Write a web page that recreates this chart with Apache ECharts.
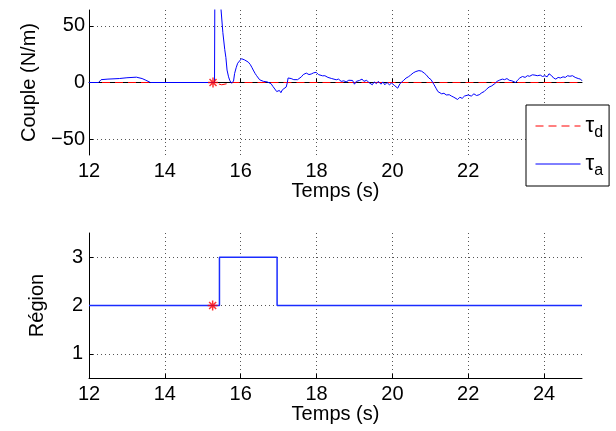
<!DOCTYPE html>
<html>
<head>
<meta charset="utf-8">
<script src="https://cdn.jsdelivr.net/npm/echarts@6/dist/echarts.min.js"></script>
<style>
  body { margin: 0; background: #fff; }
  #chart { width: 616px; height: 431px; }
</style>
</head>
<body>
<div id="chart"></div>
<script>
// ticks
var timeTicks = [12, 14, 16, 18, 20, 22, 24];
var coupleTicks = [-50, 0, 50];
var regionTicks = [1, 2, 3];

// couple desire (t, N/m)
var tauD = [[12, 0], [15.27, 0], [15.5, -2], [15.8, 0], [25, 0]];

// couple applique (t, N/m)
var tauA = [
  [12.0, 0], [12.25, 0], [12.32, 2.5], [12.5, 3], [12.8, 3.5], [13.0, 4.2], [13.25, 4.7],
  [13.4, 3.5], [13.5, 2], [13.62, 0], [15.31, 0], [15.32, 95], [15.42, 95], [15.48, 65],
  [15.53, 44], [15.58, 29], [15.61, 22], [15.64, 11], [15.68, 5], [15.71, 2], [15.75, -0.5],
  [15.78, -1.5], [15.81, 1], [15.84, 8], [15.88, 13], [15.92, 17], [15.97, 19], [16.02, 21],
  [16.06, 21.5], [16.1, 20], [16.15, 20.5], [16.2, 18], [16.25, 16], [16.3, 13], [16.33, 11],
  [16.38, 8], [16.42, 6], [16.46, 4.5], [16.5, 2.4], [16.55, 3], [16.6, 1], [16.65, 2],
  [16.7, 0.5], [16.75, 1.5], [16.8, -1], [16.85, -3.5], [16.9, -5], [16.95, -8], [16.98, -9.5],
  [17.02, -7], [17.06, -9], [17.1, -6.4], [17.15, -7.5], [17.2, -4], [17.23, 0], [17.25, 4],
  [17.29, 2.4], [17.33, 3.5], [17.4, 2.5], [17.45, 3.5], [17.5, 2.5], [17.55, 3], [17.6, 5],
  [17.65, 7], [17.7, 7.5], [17.73, 8.3], [17.8, 7], [17.86, 7.5], [17.92, 8.5], [17.99, 9],
  [18.05, 7], [18.1, 7.5], [18.16, 5.9], [18.22, 6], [18.3, 4.5], [18.4, 3.5], [18.45, 4],
  [18.52, 2.4], [18.58, 3], [18.65, 1], [18.72, 1.5], [18.78, 0.5], [18.85, 2], [18.9, 0.5],
  [18.95, 1.8], [19.0, -1.5], [19.05, 1], [19.13, 1.8], [19.2, 3], [19.25, 1], [19.32, 2],
  [19.38, 0], [19.42, 1], [19.47, -2], [19.52, 0.5], [19.58, -1], [19.63, 1], [19.7, -1.5],
  [19.75, 0.5], [19.8, -2], [19.86, 0], [19.92, -2], [19.98, -0.5], [20.05, -2.5], [20.1, -3.5],
  [20.14, -5], [20.2, -1], [20.25, 0], [20.3, 2], [20.36, 3.9], [20.42, 5], [20.48, 6.5],
  [20.55, 8.5], [20.62, 9.7], [20.7, 10.5], [20.77, 10], [20.84, 8.3], [20.9, 6.5], [20.96, 4],
  [21.02, 2.5], [21.06, 1], [21.1, -2], [21.15, -5], [21.2, -8], [21.24, -9.4], [21.3, -10],
  [21.36, -9.5], [21.42, -11], [21.5, -10.8], [21.56, -12], [21.62, -13], [21.67, -14],
  [21.72, -15], [21.78, -13], [21.84, -14], [21.9, -12], [21.94, -12.3], [22.0, -11],
  [22.08, -12], [22.15, -10], [22.22, -11.5], [22.29, -10.8], [22.36, -9], [22.42, -8],
  [22.48, -6], [22.55, -4], [22.62, -3], [22.7, -1], [22.76, 1], [22.82, 2], [22.9, 3],
  [22.96, 2.5], [23.02, 3.5], [23.08, 2], [23.15, 1.5], [23.2, 0.5], [23.25, 0], [23.3, 2],
  [23.36, 4], [23.43, 5.3], [23.5, 4.5], [23.56, 6], [23.62, 5.5], [23.69, 6.8], [23.76, 6.5],
  [23.82, 6], [23.9, 6.5], [23.96, 5.3], [24.02, 6], [24.08, 5], [24.13, 7.7], [24.2, 6],
  [24.25, 4], [24.31, 3], [24.37, 4.5], [24.43, 4], [24.5, 5], [24.56, 4.5], [24.62, 6],
  [24.68, 5.5], [24.75, 6], [24.82, 4.5], [24.9, 3.5], [24.96, 3], [25.0, 1.5]
];

// region (t, numero)
var region = [[12, 2], [15.44, 2], [15.44, 3], [16.96, 3], [16.96, 2], [25, 2]];

// instant de detection
var starCouple = [[15.27, 0]];
var starRegion = [[15.26, 2]];

var font = "'Liberation Sans', Arial, sans-serif";
var asterisk = "path://M5 0L5 10M0 5L10 5M1.5 1.5L8.5 8.5M1.5 8.5L8.5 1.5";
var gridLine = { show: true, lineStyle: { color: "#555", type: [1, 3], width: 1 } };

function xAxisFor(gridIndex) {
  return {
    type: "value",
    gridIndex: gridIndex,
    min: 12,
    max: 25,
    name: "Temps (s)",
    nameLocation: "middle",
    nameGap: 22,
    nameTextStyle: { color: "#000", fontSize: 20, fontFamily: font },
    axisLine: { show: true, lineStyle: { color: "#000", width: 1 } },
    axisTick: { show: true, inside: true, length: 4, customValues: timeTicks, lineStyle: { color: "#000" } },
    axisLabel: { customValues: timeTicks, color: "#000", fontSize: 20, fontFamily: font, margin: 6 },
    splitLine: gridLine,
  };
}

var chart = echarts.init(document.getElementById("chart"));
var option = {
  animation: false,
  backgroundColor: "#fff",
  grid: [
    { left: 89, top: 10, width: 493, height: 145 },
    { left: 89, top: 233, width: 493, height: 145 },
  ],
  legend: {
    data: ["τd", "τa"],
    orient: "vertical",
    left: 526,
    top: 105,
    padding: [10, 6, 7, 9],
    itemGap: 12,
    itemWidth: 45,
    itemHeight: 14,
    itemStyle: { opacity: 0 },
    lineStyle: { width: 1 },
    backgroundColor: "#fff",
    borderColor: "#000",
    borderWidth: 1,
    borderRadius: 0,
    formatter: function (name) {
      return "{t|τ}{s|" + name.slice(1) + "}";
    },
    textStyle: {
      color: "#000",
      fontFamily: font,
      rich: {
        t: { fontSize: 22, fontFamily: font, color: "#000" },
        s: { fontSize: 16, fontFamily: font, color: "#000", padding: [14, 0, 0, 0] },
      },
    },
  },
  xAxis: [xAxisFor(0), xAxisFor(1)],
  yAxis: [
    {
      type: "value",
      gridIndex: 0,
      min: -64,
      max: 64,
      name: "Couple (N/m)",
      nameLocation: "middle",
      nameGap: 50,
      nameTextStyle: { color: "#000", fontSize: 20, fontFamily: font },
      axisLine: { show: true, lineStyle: { color: "#000", width: 1 } },
      axisTick: { show: true, inside: true, length: 4, customValues: coupleTicks, lineStyle: { color: "#000" } },
      axisLabel: {
        customValues: coupleTicks,
        color: "#000",
        fontSize: 20,
        fontFamily: font,
        margin: 4,
        formatter: function (v) { return String(v).replace("-", "\u2212"); },
      },
      splitLine: gridLine,
    },
    {
      type: "value",
      gridIndex: 1,
      min: 0.5,
      max: 3.5,
      name: "Région",
      nameLocation: "middle",
      nameGap: 42,
      nameTextStyle: { color: "#000", fontSize: 20, fontFamily: font },
      axisLine: { show: true, lineStyle: { color: "#000", width: 1 } },
      axisTick: { show: true, inside: true, length: 4, customValues: regionTicks, lineStyle: { color: "#000" } },
      axisLabel: { customValues: regionTicks, color: "#000", fontSize: 20, fontFamily: font, margin: 6 },
      splitLine: gridLine,
    },
  ],
  series: [
    {
      name: "τd",
      type: "line",
      xAxisIndex: 0,
      yAxisIndex: 0,
      data: tauD,
      symbol: "none",
      lineStyle: { color: "#ff0000", width: 1, type: [8, 5] },
      itemStyle: { color: "#ff0000" },
    },
    {
      name: "τa",
      type: "line",
      xAxisIndex: 0,
      yAxisIndex: 0,
      data: tauA,
      symbol: "none",
      clip: true,
      lineStyle: { color: "#0000ff", width: 1 },
      itemStyle: { color: "#0000ff" },
    },
    {
      type: "scatter",
      xAxisIndex: 0,
      yAxisIndex: 0,
      data: starCouple,
      symbol: asterisk,
      symbolSize: 10,
      itemStyle: { color: "none", borderColor: "#ff0000", borderWidth: 1.5 },
      z: 5,
    },
    {
      type: "line",
      xAxisIndex: 1,
      yAxisIndex: 1,
      data: region,
      symbol: "none",
      lineStyle: { color: "#1a2cff", width: 1.5 },
    },
    {
      type: "scatter",
      xAxisIndex: 1,
      yAxisIndex: 1,
      data: starRegion,
      symbol: asterisk,
      symbolSize: 10,
      itemStyle: { color: "none", borderColor: "#ff0000", borderWidth: 1.5 },
      z: 5,
    },
  ],
};
chart.setOption(option);
</script>
</body>
</html>
